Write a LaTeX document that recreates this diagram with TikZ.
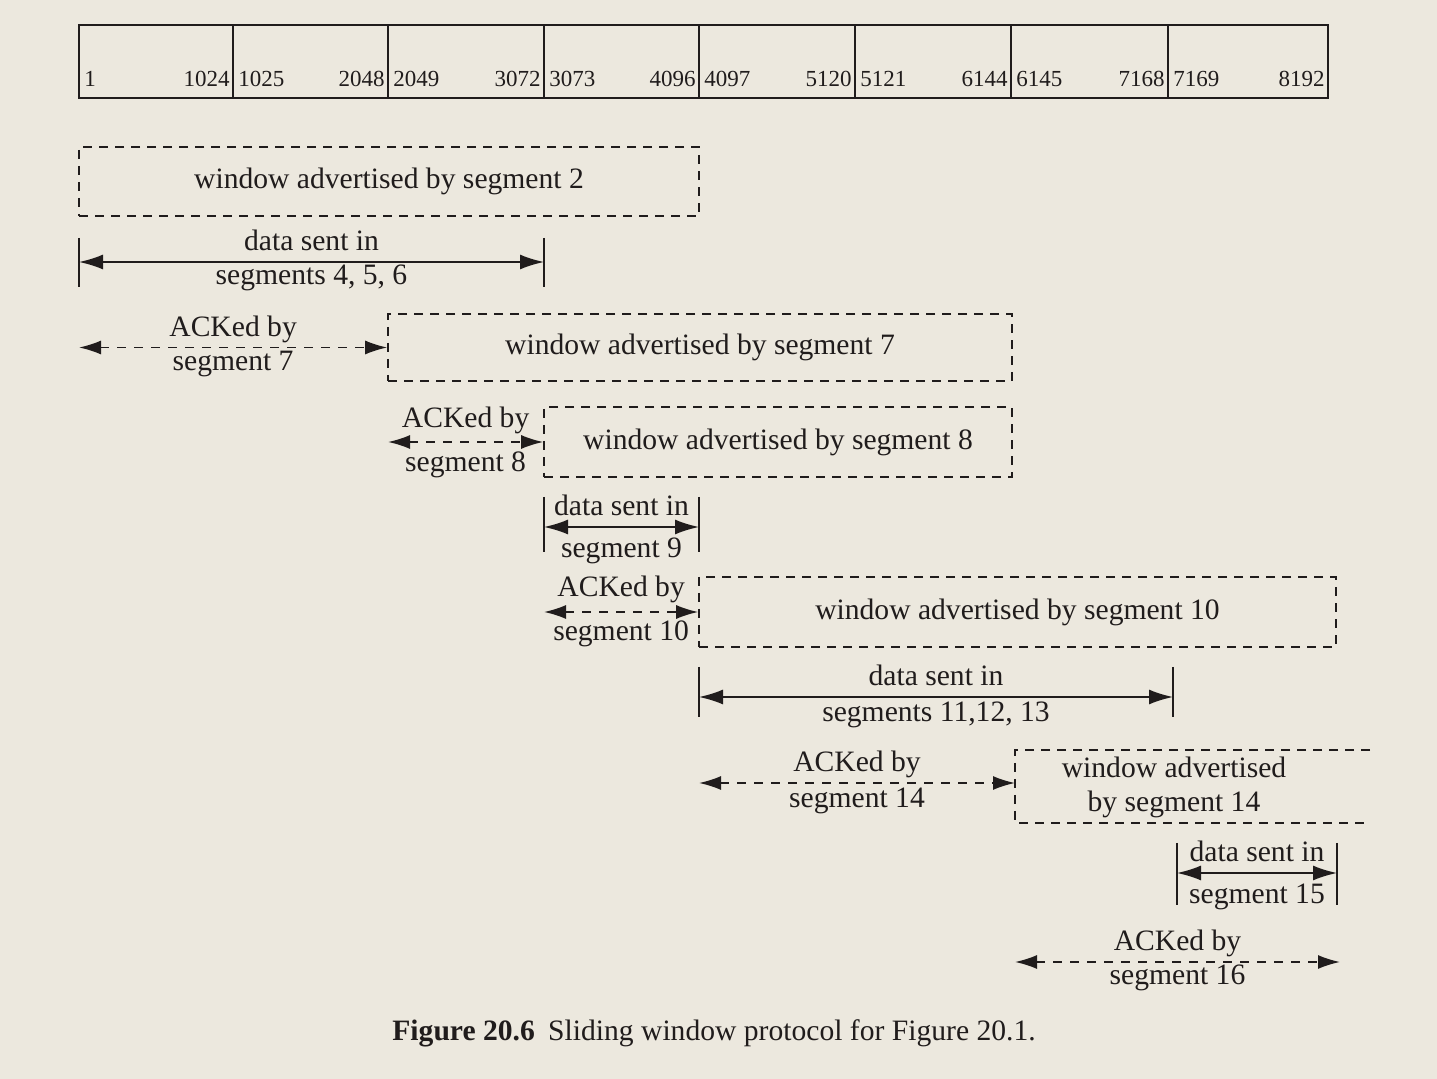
\documentclass[tikz,border=0pt]{standalone}
\usepackage{fontspec}
\setmainfont{Liberation Serif}
\usetikzlibrary{arrows.meta,fit}
\definecolor{paper}{RGB}{236,232,222}
\definecolor{ink}{RGB}{32,28,28}
\begin{document}
\begin{tikzpicture}[x=0.5pt,y=-0.5pt,
  num/.style={font=\fontsize{11.5}{13}\selectfont, inner sep=0pt, text=ink},
  lab/.style={font=\fontsize{14.8}{17}\selectfont, inner sep=0pt, text=ink, align=center},
  toplab/.style={lab, anchor=base, yshift=5.5pt},
  botlab/.style={lab, anchor=base, yshift=-11.5pt},
  wbox/.style={draw=ink, line width=0.8pt, dash pattern=on 4.5pt off 3.5pt, inner sep=0pt},
  solidline/.style={draw=ink, line width=0.85pt},
  dataarr/.style={solidline, {Latex[length=12pt,width=7.5pt]}-{Latex[length=12pt,width=7.5pt]}},
  ackarr/.style={solidline, dash pattern=on 4.5pt off 4pt, {Latex[length=11pt,width=7pt]}-{Latex[length=11pt,width=7pt]}},
  tickline/.style={solidline}
]
\fill[paper] (0,0) rectangle (1437,1079);
\useasboundingbox (0,0) rectangle (1437,1079);

% sequence number bar
\node[solidline, fit={(79,25) (1328,98)}, inner sep=0pt] (bar) {};
\foreach \a/\b/\l/\r in {79/233/1/1024, 233/388/1025/2048, 388/544/2049/3072, 544/699/3073/4096, 699/855/4097/5120, 855/1011/5121/6144, 1011/1168/6145/7168, 1168/1328/7169/8192}{
  \node[num, anchor=base west] (n\l) at ({\a+5},87) {\l};
  \node[num, anchor=base east] (n\r) at ({\b-3},87) {\r};
}
\foreach \x in {233,388,544,699,855,1011,1168}{
  \draw[solidline] (\x,25) -- (\x,98);
}

% window advertised by segment 2
\node[wbox, fit={(79,147) (699,216)}] (b2) {};
\node[lab] (b2t) at (b2.center) {window advertised by segment 2};

% data sent in segments 4,5,6
\coordinate (t1a) at (79,238); \coordinate (t1b) at (79,287);
\coordinate (t1c) at (544,238); \coordinate (t1d) at (544,287);
\draw[tickline] (t1a) -- (t1b);
\draw[tickline] (t1c) -- (t1d);
\coordinate (d1l) at (79,262); \coordinate (d1r) at (544,262);
\draw[dataarr] (d1l) -- (d1r)
  node[toplab, midway] (d1u) {data sent in}
  node[botlab, midway] (d1d) {segments 4, 5, 6};

% window advertised by segment 7
\node[wbox, fit={(388,314) (1012,381)}] (b7) {};
\node[lab] (b7t) at (b7.center) {window advertised by segment 7};
\coordinate (a7s) at (79,0);
\draw[ackarr] (a7s |- b7.west) -- (b7.west)
  node[toplab, midway] (a7u) {ACKed by}
  node[botlab, midway] (a7d) {segment 7};

% window advertised by segment 8
\node[wbox, fit={(544,407) (1012,477)}] (b8) {};
\node[lab] (b8t) at (b8.center) {window advertised by segment 8};
\coordinate (a8s) at (388,0);
\draw[ackarr] (a8s |- b8.west) -- (b8.west)
  node[toplab, midway, yshift=1.5pt] (a8u) {ACKed by}
  node[botlab, midway, yshift=-3.5pt] (a8d) {segment 8};

% data sent in segment 9
\coordinate (t9a) at (544,497); \coordinate (t9b) at (544,552);
\coordinate (t9c) at (699,497); \coordinate (t9d) at (699,552);
\draw[tickline] (t9a) -- (t9b);
\draw[tickline] (t9c) -- (t9d);
\coordinate (d9l) at (544,527); \coordinate (d9r) at (699,527);
\draw[dataarr] (d9l) -- (d9r)
  node[toplab, midway] (d9u) {data sent in}
  node[botlab, midway, yshift=-4pt] (d9d) {segment 9};

% window advertised by segment 10
\node[wbox, fit={(699,577) (1336,647)}] (b10) {};
\node[lab] (b10t) at (b10.center) {window advertised by segment 10};
\coordinate (a10s) at (544,0);
\draw[ackarr] (a10s |- b10.west) -- (b10.west)
  node[toplab, midway, yshift=2pt] (a10u) {ACKed by}
  node[botlab, midway, yshift=-3pt] (a10d) {segment 10};

% data sent in segments 11,12,13
\coordinate (t11a) at (699,667); \coordinate (t11b) at (699,717);
\coordinate (t11c) at (1173,667); \coordinate (t11d) at (1173,717);
\draw[tickline] (t11a) -- (t11b);
\draw[tickline] (t11c) -- (t11d);
\coordinate (d11l) at (699,697); \coordinate (d11r) at (1173,697);
\draw[dataarr] (d11l) -- (d11r)
  node[toplab, midway] (d11u) {data sent in}
  node[botlab, midway, yshift=-1pt] (d11d) {segments 11,12, 13};

% window advertised by segment 14 (open on the right)
\draw[wbox] (1370,750) -| (1015,823) -- (1370,823);
\coordinate (b14w) at (1015,783);
\node[lab] (b14t) at (1174,787) {window advertised\\by segment 14};
\coordinate (a14s) at (699,783);
\draw[ackarr] (a14s) -- (b14w)
  node[toplab, midway] (a14u) {ACKed by}
  node[botlab, midway, yshift=-1pt] (a14d) {segment 14};

% data sent in segment 15
\coordinate (t15a) at (1177,843); \coordinate (t15b) at (1177,905);
\coordinate (t15c) at (1337,843); \coordinate (t15d) at (1337,905);
\draw[tickline] (t15a) -- (t15b);
\draw[tickline] (t15c) -- (t15d);
\coordinate (d15l) at (1177,873); \coordinate (d15r) at (1337,873);
\draw[dataarr] (d15l) -- (d15r)
  node[toplab, midway] (d15u) {data sent in}
  node[botlab, midway, yshift=-4pt] (d15d) {segment 15};

% ACKed by segment 16
\coordinate (a16l) at (1015,962); \coordinate (a16r) at (1340,962);
\draw[ackarr] (a16l) -- (a16r)
  node[toplab, midway] (a16u) {ACKed by}
  node[botlab, midway] (a16d) {segment 16};

% caption
\node[lab, anchor=base west] (cap) at (392,1041)
  {\textbf{Figure 20.6}\hspace{0.45em}Sliding window protocol for Figure 20.1.};
\end{tikzpicture}
\end{document}
